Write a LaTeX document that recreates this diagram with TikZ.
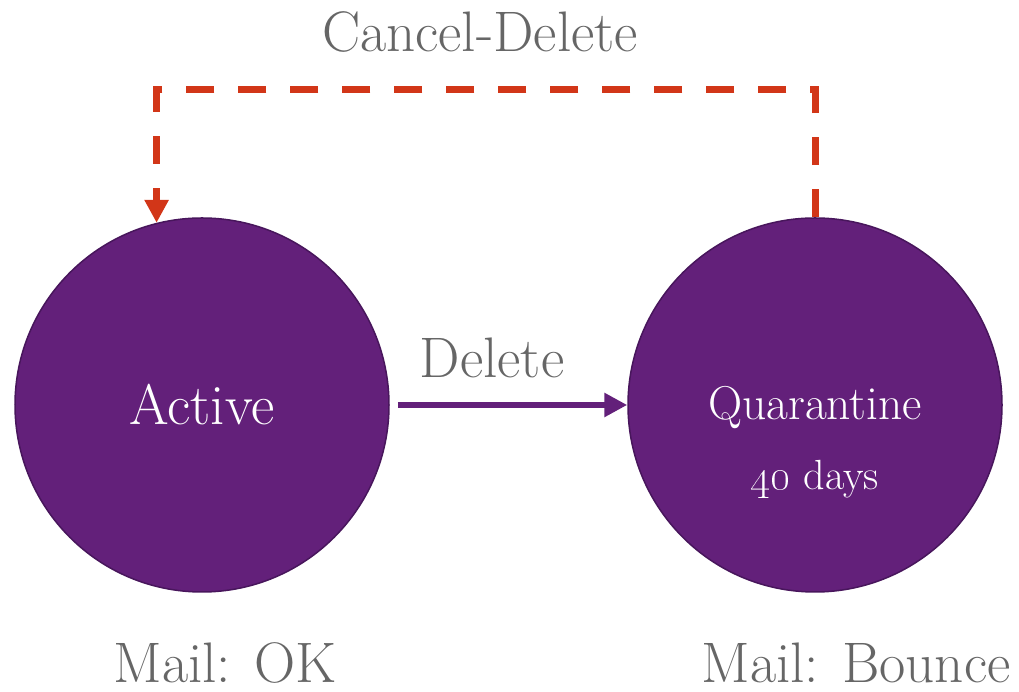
\documentclass[tikz,border=0pt]{standalone}
\usepackage{xcolor}
\usepackage{tikz}
\usetikzlibrary{arrows.meta,positioning}
\definecolor{statepurple}{RGB}{99,32,122}
\definecolor{stateborder}{RGB}{72,22,92}
\definecolor{cancelred}{RGB}{210,54,24}
\definecolor{textgray}{RGB}{102,102,102}

\begin{document}
\begin{tikzpicture}[
    state/.style={circle, fill=statepurple, draw=stateborder, line width=0.03cm,
                  minimum size=7.48cm, inner sep=0pt, text=white},
    arrow/.style={-{Triangle[length=0.46cm, width=0.46cm]}, line width=0.12cm, statepurple},
    cancel/.style={-{Triangle[length=0.46cm, width=0.46cm]}, line width=0.14cm, cancelred,
                   dash pattern=on 0.56cm off 0.48cm},
    txt/.style={font=\fontsize{32.5}{38}\selectfont, text=textgray},
    inside/.style={text=white}
]
\useasboundingbox (0,0) rectangle (20.38,13.84);

% Estados
\node[state, font=\fontsize{32.5}{38}\selectfont] (act) at (4.04,5.74) {Active};
\node[state] (qua) at (16.30,5.74) {};
\node[inside, anchor=base, font=\fontsize{27}{32}\selectfont] (quatxt) at ([yshift=-0.30cm]qua.center) {Quarantine};
\node[inside, anchor=base, font=\fontsize{24}{28}\selectfont] (quadays) at ([yshift=-1.70cm]qua.center) {\oldstylenums{40} days};

% Transiciones
\draw[arrow, shorten <=0.16cm] (act.east) -- (qua.west);
\node[txt, anchor=base] (del) at (9.84,6.28) {Delete};

\coordinate (top) at (0,12.04);
\draw[cancel] (qua.north) -- (qua.north |- top) -| (act.104.6);
\node[txt, anchor=base] (canc) at (9.60,12.80) {Cancel-Delete};

% Correo
\node[txt, anchor=base] (mailok) at (4.50,0.18) {Mail: OK};
\node[txt, anchor=base] (mailbounce) at (17.12,0.18) {Mail: Bounce};

\end{tikzpicture}
\end{document}
